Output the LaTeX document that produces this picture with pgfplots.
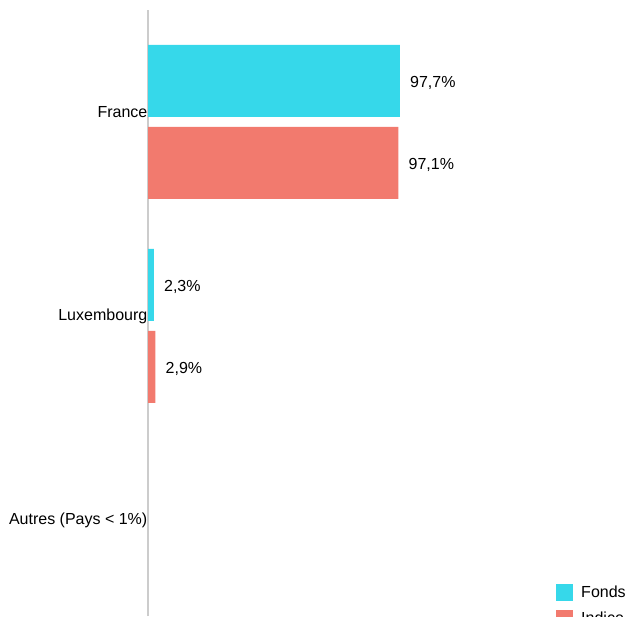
\documentclass[border=0pt]{standalone}
\usepackage{pgfplots}
\pgfplotsset{compat=1.18}
\usepackage{fontspec}
\setmainfont{Liberation Sans}
\definecolor{fonds}{HTML}{36D8EA}
\definecolor{indice}{HTML}{F27A6E}
\definecolor{axgray}{HTML}{CCCCCC}
\newcommand{\ff}{\fontsize{16}{19}\selectfont}
\begin{document}
\begin{tikzpicture}
\useasboundingbox (0,0) rectangle (626pt,616pt);
\clip (0,0) rectangle (626pt,616pt);
\begin{axis}[
  at={(148pt,0pt)}, anchor=south west,
  scale only axis, width=452pt, height=606pt,
  xbar, xmin=0, xmax=175.26, ymin=-0.4216, ymax=2.549,
  bar width=72pt,
  axis x line=none, axis y line*=left,
  axis line style={-, draw=axgray, line width=1.5pt},
  ytick={0,1,2},
  yticklabels={Autres (Pays < 1\%), Luxembourg, France},
  major tick length=0pt,
  yticklabel style={font=\ff, anchor=east, inner sep=0pt, xshift=-0.5pt, yshift=10pt},
  point meta=explicit symbolic,
  nodes near coords,
  every node near coord/.append style={font=\ff, text=black, anchor=west, inner sep=0pt, xshift=10pt, yshift=-1.5pt},
  legend image code/.code={\fill[#1,draw=none] (0pt,-8.5pt) rectangle (17pt,8.5pt);},
  legend style={at={(0.9027,0.0528)}, anchor=north west, draw=none, fill=none,
    inner sep=0pt, font=\ff, row sep=9pt,
    /tikz/every odd column/.append style={column sep=6pt}},
  legend cell align=left,
  clip=false,
]
\addplot[fill=fonds, draw=none, bar shift=41pt] coordinates {(97.7,2) [97,7\%] (2.3,1) [2,3\%]};
\addplot[fill=indice, draw=none, bar shift=-41pt] coordinates {(97.1,2) [97,1\%] (2.9,1) [2,9\%]};
\legend{Fonds, Indice}
\end{axis}
\end{tikzpicture}
\end{document}
